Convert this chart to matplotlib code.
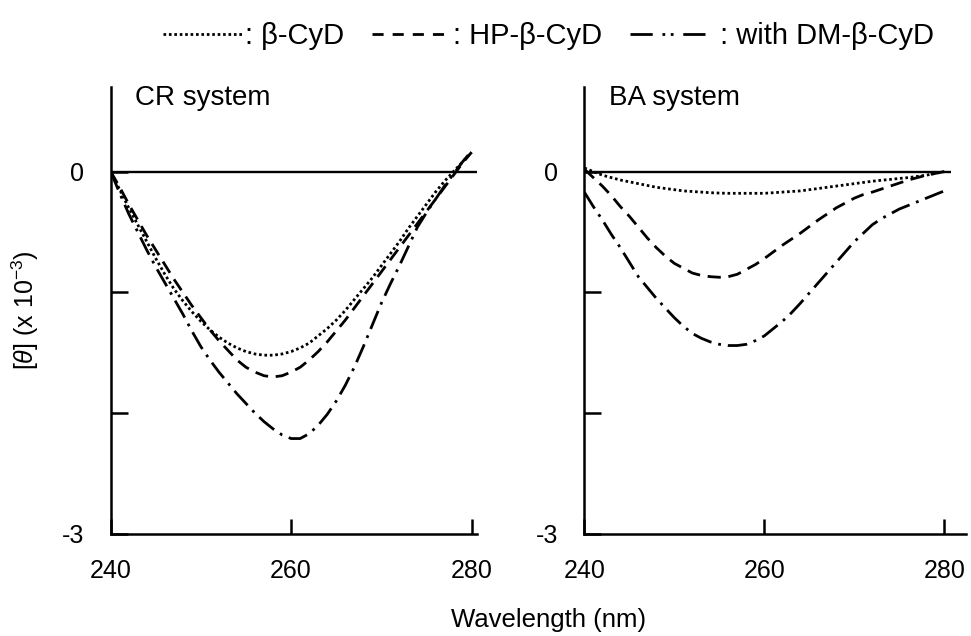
import matplotlib
matplotlib.use("Agg")
import matplotlib.pyplot as plt
from matplotlib.lines import Line2D

plt.rcParams['font.family'] = ['Liberation Sans', 'DejaVu Sans']
plt.rcParams['mathtext.fontset'] = 'custom'
plt.rcParams['mathtext.rm'] = 'Liberation Sans'
plt.rcParams['mathtext.it'] = 'Liberation Sans:italic'
plt.rcParams['lines.scale_dashes'] = False

# ---- data ----
wavelength = list(range(240, 281))

cr_beta = [0.00, -0.15, -0.30, -0.44, -0.58, -0.72, -0.85, -0.97, -1.07, -1.16,
           -1.24, -1.31, -1.37, -1.42, -1.46, -1.49, -1.51, -1.52, -1.52, -1.51,
           -1.49, -1.46, -1.42, -1.36, -1.30, -1.23, -1.15, -1.06, -0.97, -0.88,
           -0.78, -0.68, -0.58, -0.47, -0.37, -0.27, -0.17, -0.08, 0.00, 0.08,
           0.16]
cr_hp = [0.00, -0.13, -0.27, -0.40, -0.53, -0.65, -0.77, -0.89, -1.00, -1.11,
         -1.21, -1.31, -1.40, -1.48, -1.56, -1.62, -1.66, -1.69, -1.70, -1.69,
         -1.66, -1.62, -1.56, -1.49, -1.41, -1.32, -1.23, -1.13, -1.03, -0.93,
         -0.83, -0.73, -0.63, -0.53, -0.43, -0.33, -0.23, -0.13, -0.03, 0.07,
         0.16]
cr_dm = [0.00, -0.18, -0.35, -0.50, -0.65, -0.79, -0.92, -1.05, -1.18, -1.32,
         -1.45, -1.56, -1.66, -1.75, -1.84, -1.92, -2.00, -2.07, -2.13, -2.18,
         -2.21, -2.21, -2.17, -2.10, -2.01, -1.90, -1.77, -1.62, -1.45, -1.27,
         -1.09, -0.93, -0.78, -0.62, -0.46, -0.34, -0.23, -0.12, -0.02, 0.08,
         0.17]

ba_beta = [0.03, 0.00, -0.03, -0.05, -0.07, -0.085, -0.10, -0.115, -0.13, -0.14,
           -0.15, -0.16, -0.165, -0.17, -0.175, -0.178, -0.18, -0.18, -0.18, -0.18,
           -0.18, -0.175, -0.17, -0.165, -0.16, -0.15, -0.14, -0.13, -0.12, -0.11,
           -0.10, -0.09, -0.08, -0.072, -0.065, -0.057, -0.05, -0.04, -0.03, -0.015,
           0.00]
ba_hp = [0.02, -0.05, -0.12, -0.20, -0.29, -0.37, -0.46, -0.55, -0.63, -0.70,
         -0.76, -0.80, -0.84, -0.86, -0.87, -0.875, -0.87, -0.85, -0.81, -0.77,
         -0.72, -0.665, -0.61, -0.56, -0.51, -0.455, -0.40, -0.35, -0.30, -0.26,
         -0.22, -0.19, -0.17, -0.145, -0.12, -0.095, -0.07, -0.05, -0.03, -0.015,
         0.00]
ba_dm = [-0.17, -0.29, -0.40, -0.52, -0.63, -0.75, -0.87, -0.96, -1.05, -1.13,
         -1.21, -1.28, -1.34, -1.38, -1.41, -1.43, -1.44, -1.44, -1.43, -1.40,
         -1.36, -1.30, -1.24, -1.17, -1.09, -1.005, -0.92, -0.835, -0.75, -0.665,
         -0.58, -0.51, -0.44, -0.39, -0.35, -0.31, -0.28, -0.25, -0.22, -0.19,
         -0.16]

panel_titles = ["CR system", "BA system"]
series_labels = [": \u03b2-CyD", ": HP-\u03b2-CyD", " : with DM-\u03b2-CyD"]
xticks = [240, 260, 280]
yticks = [0, -1, -2, -3]
yticklabels = ["0", "", "", "-3"]

# ---- styles ----
LW = 2.0
styles = [(0, (1.9, 2.0)), (0, (9.5, 5.5)), (0, (14, 5, 2, 5))]
legend_styles = [(0, (1.9, 2.0)), (0, (8, 6.5)), (0, (16, 7, 2, 4, 2, 7))]

fig = plt.figure(figsize=(9.71, 6.36), dpi=100)
ax1 = fig.add_axes([0.114, 0.1604, 0.3772, 0.7028])
ax2 = fig.add_axes([0.6018, 0.1604, 0.3930, 0.7028])

panels = [(ax1, [cr_beta, cr_hp, cr_dm], (240, 280.6)),
          (ax2, [ba_beta, ba_hp, ba_dm], (240, 282.4))]

for (ax, series, xlim), title in zip(panels, panel_titles):
    ax.hlines(0, 240, 280.7, color='black', lw=1.7, zorder=1)
    for s, ls in zip(series, styles):
        ax.plot(wavelength, s, color='black', lw=LW, linestyle=ls,
                dash_capstyle='butt', zorder=2)
    ax.set_xlim(*xlim)
    ax.set_ylim(-3, 0.7)
    ax.spines['top'].set_visible(False)
    ax.spines['right'].set_visible(False)
    ax.spines['left'].set_linewidth(1.8)
    ax.spines['bottom'].set_linewidth(1.8)
    ax.set_xticks(xticks)
    ax.set_xticklabels([str(t) for t in xticks])
    ax.set_yticks(yticks)
    ax.set_yticklabels(yticklabels)
    ax.tick_params(axis='x', direction='in', length=11, width=1.8, pad=18, labelsize=18)
    ax.tick_params(axis='y', direction='in', length=12, width=1.8, pad=19, labelsize=18)
    ax.text(0.065, 0.975, title, transform=ax.transAxes, fontsize=20,
            ha='left', va='center')

ax1.set_ylabel(r'[$\theta$] (x 10$^{\mathrm{-3}}$)', fontsize=18, labelpad=15)
fig.text(0.565, 0.025, "Wavelength (nm)", fontsize=18.5, ha='center', va='center')

handles = [Line2D([], [], color='black', lw=LW, linestyle=ls, dash_capstyle='butt')
           for ls in legend_styles]
fig.legend(handles, series_labels, loc='center', bbox_to_anchor=(0.565, 0.943),
           ncol=3, frameon=False, fontsize=21, handlelength=2.7,
           handletextpad=0.1, columnspacing=0.95, borderaxespad=0)

fig.savefig("out.png", dpi=100)
